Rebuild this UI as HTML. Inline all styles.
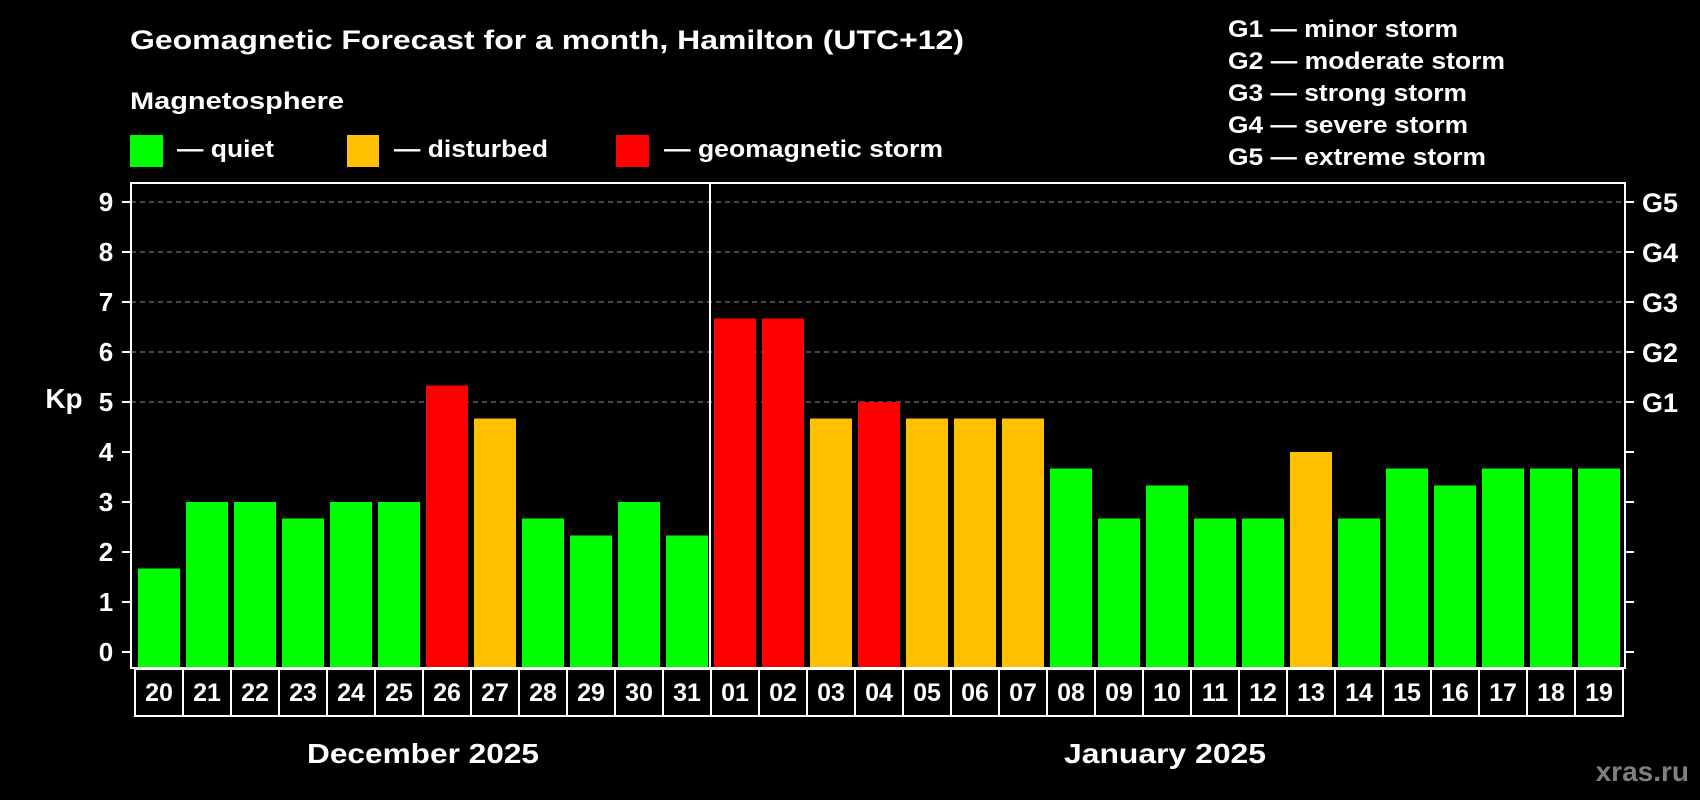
<!DOCTYPE html>
<html><head><meta charset="utf-8"><style>
html,body{margin:0;padding:0;background:#000;}
svg{display:block;font-family:"Liberation Sans",Arial,sans-serif;font-weight:bold;}
</style></head><body>
<svg id="chart" width="1700" height="800" viewBox="0 0 1700 800">
<rect x="0" y="0" width="1700" height="800" fill="#000"/>
<text x="130" y="49" font-size="27" fill="#fff" textLength="834" lengthAdjust="spacingAndGlyphs">Geomagnetic Forecast for a month, Hamilton (UTC+12)</text>
<text x="130" y="109" font-size="24" fill="#fff" textLength="214" lengthAdjust="spacingAndGlyphs">Magnetosphere</text>
<g>
<rect x="130" y="135" width="33" height="32" fill="#00ff00"/>
<text x="177" y="157" font-size="24" fill="#fff" textLength="97" lengthAdjust="spacingAndGlyphs">— quiet</text></g>
<g>
<rect x="347" y="135" width="32" height="32" fill="#ffc000"/>
<text x="394" y="157" font-size="24" fill="#fff" textLength="154" lengthAdjust="spacingAndGlyphs">— disturbed</text></g>
<g>
<rect x="616" y="135" width="33" height="32" fill="#ff0000"/>
<text x="664" y="157" font-size="24" fill="#fff" textLength="279" lengthAdjust="spacingAndGlyphs">— geomagnetic storm</text></g>
<g font-size="24" fill="#fff">
<text x="1228" y="37" textLength="230" lengthAdjust="spacingAndGlyphs">G1 — minor storm</text>
<text x="1228" y="69" textLength="277" lengthAdjust="spacingAndGlyphs">G2 — moderate storm</text>
<text x="1228" y="101" textLength="239" lengthAdjust="spacingAndGlyphs">G3 — strong storm</text>
<text x="1228" y="133" textLength="240" lengthAdjust="spacingAndGlyphs">G4 — severe storm</text>
<text x="1228" y="165" textLength="258" lengthAdjust="spacingAndGlyphs">G5 — extreme storm</text>
</g>
<text x="64" y="408" font-size="28" fill="#fff" text-anchor="middle">Kp</text>
<g id="grid"></g>
<g id="bars"></g>
<g id="axes"></g>
<g id="xlabels"></g>
<text x="423" y="763" font-size="28" fill="#fff" text-anchor="middle" textLength="232" lengthAdjust="spacingAndGlyphs">December 2025</text>
<text x="1165" y="763" font-size="28" fill="#fff" text-anchor="middle" textLength="202" lengthAdjust="spacingAndGlyphs">January 2025</text>
<text x="1689" y="781" font-size="28" fill="#7f7f7f" text-anchor="end">xras.ru</text>
</svg>
<script>
const days = ["20","21","22","23","24","25","26","27","28","29","30","31","01","02","03","04","05","06","07","08","09","10","11","12","13","14","15","16","17","18","19"];
const kpValues = [1.67,3,3,2.67,3,3,5.33,4.67,2.67,2.33,3,2.33,6.67,6.67,4.67,5,4.67,4.67,4.67,3.67,2.67,3.33,2.67,2.67,4,2.67,3.67,3.33,3.67,3.67,3.67];
const yTicks = [0,1,2,3,4,5,6,7,8,9];
const gLabels = ["G1","G2","G3","G4","G5"];
const gLevels = [5,6,7,8,9];

const NS = "http://www.w3.org/2000/svg";
const PL = 131, PR = 1625, PT = 183, PB = 668;
const X0 = 135, SLOT = 48;
function yScale(v){ return 652 - 50*v; }
function xScale(i){ return X0 + i*SLOT; }
function mk(tag, attrs, parent){
  const e = document.createElementNS(NS, tag);
  for (const k in attrs) e.setAttribute(k, attrs[k]);
  parent.appendChild(e); return e;
}
function color(v){ return v >= 5 ? "#ff0000" : (v >= 4 ? "#ffc000" : "#00ff00"); }

const grid = document.getElementById("grid");
gLevels.forEach(v => {
  const l = mk("line", {x1:PL, x2:PR, y1:yScale(v), y2:yScale(v), stroke:"#8c8c8c", "stroke-width":1, "stroke-dasharray":"5,4"}, grid);
  
  
});

const bars = document.getElementById("bars");
kpValues.forEach((v, i) => {
  const y = yScale(v);
  const r = mk("rect", {x:xScale(i)+3, y:y, width:42, height:PB - y, fill:color(v)}, bars);
  
  
});

const axes = document.getElementById("axes");
const frame = mk("rect", {x:PL, y:PT, width:PR-PL, height:PB-PT, fill:"none", stroke:"#fff", "stroke-width":2}, axes);


const sep = mk("line", {x1:xScale(12)-1, x2:xScale(12)-1, y1:PT, y2:PB, stroke:"#fff", "stroke-width":2}, axes);


yTicks.forEach(v => {
  const y = yScale(v);
  const t1 = mk("line", {x1:PL-9, x2:PL, y1:y, y2:y, stroke:"#fff", "stroke-width":2}, axes);
  
  
  const t2 = mk("line", {x1:PR, x2:PR+9, y1:y, y2:y, stroke:"#fff", "stroke-width":2}, axes);
  
  
  const lab = mk("text", {x:106, y:y+9, "font-size":26, fill:"#fff", "text-anchor":"middle"}, axes);
  lab.textContent = String(v);
  
  
});
gLabels.forEach((g, i) => {
  const t = mk("text", {x:1642, y:yScale(gLevels[i])+10, "font-size":27, fill:"#fff"}, axes);
  t.textContent = g;
  
  
});

const xl = document.getElementById("xlabels");
days.forEach((d, i) => {
  const r = mk("rect", {x:xScale(i), y:669, width:SLOT, height:47, fill:"#000", stroke:"#fff", "stroke-width":2}, xl);
  
  
  const t = mk("text", {x:xScale(i)+SLOT/2, y:701, "font-size":25, fill:"#fff", "text-anchor":"middle"}, xl);
  t.textContent = d;
  
  
});
</script>
</body></html>
